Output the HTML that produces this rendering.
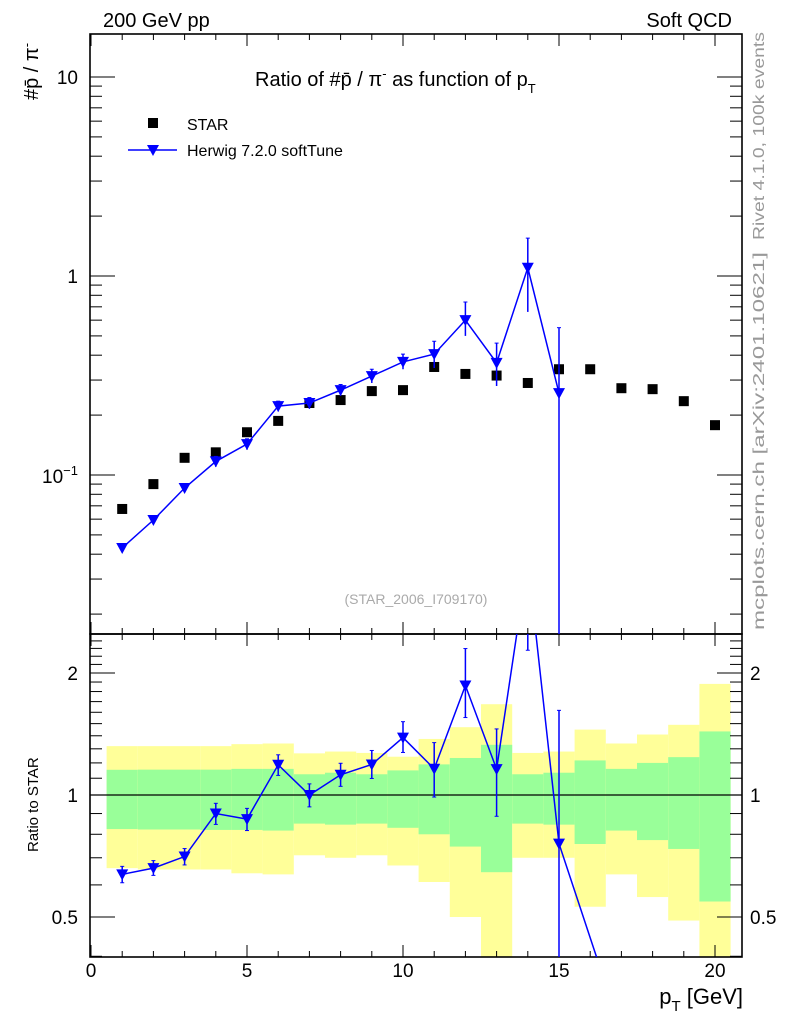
<!DOCTYPE html>
<html><head><meta charset="utf-8"><style>
html,body{margin:0;padding:0;background:#fff;overflow:hidden;width:786px;height:1024px;}
svg{display:block;font-family:"Liberation Sans",sans-serif;}
</style></head><body>
<svg id="chart" width="786" height="1024" viewBox="0 0 786 1024" xmlns="http://www.w3.org/2000/svg">
<text x="103" y="27" font-size="20">200 GeV pp</text>
<text x="732" y="27" font-size="20" text-anchor="end">Soft QCD</text>
<text x="255" y="86" font-size="20">Ratio of #p̄ / π<tspan dy="-8" font-size="13">-</tspan><tspan dy="8"> as function of p</tspan><tspan dy="7" font-size="13">T</tspan></text>
<text transform="translate(38,100) rotate(-90)" font-size="20">#p̄ / π<tspan dy="-7" font-size="13">-</tspan></text>
<text transform="translate(764,240) rotate(-90)" font-size="16" fill="#999" textLength="208" lengthAdjust="spacingAndGlyphs">Rivet 4.1.0,  100k events</text>
<text transform="translate(764,630) rotate(-90)" font-size="16" fill="#999" textLength="378" lengthAdjust="spacingAndGlyphs">mcplots.cern.ch [arXiv:2401.10621]</text>
<text x="416" y="604" font-size="14" fill="#aaa" text-anchor="middle">(STAR_2006_I709170)</text>
<text transform="translate(38,852) rotate(-90)" font-size="15">Ratio to STAR</text>
<text x="743" y="1004" font-size="22" text-anchor="end">p<tspan dy="7" font-size="15">T</tspan><tspan dy="-7"> [GeV]</tspan></text>
<g>
<rect x="148" y="118" width="10" height="10" fill="#000"/>
<text x="187" y="130" font-size="16">STAR</text>
<line x1="128" y1="150" x2="177" y2="150" stroke="#00f" stroke-width="1.5"/>
<path d="M147,145 L159,145 L153,156 Z" fill="#00f"/>
<text x="187" y="156" font-size="16">Herwig 7.2.0 softTune</text>
</g>
<g id="plot"></g>
</svg>
<script>
const xs=[1,2,3,4,5,6,7,8,9,10,11,12,13,14,15,16,17,18,19,20];
const star=[0.0675,0.090,0.122,0.130,0.164,0.187,0.230,0.238,0.264,0.267,0.349,0.322,0.316,0.290,0.340,0.340,0.273,0.270,0.235,0.178];
const herwigX=[1,2,3,4,5,6,7,8,9,10,11,12,13,14,15,17];
const herwig=[0.043,0.0594,0.086,0.117,0.143,0.222,0.230,0.267,0.314,0.370,0.405,0.60,0.366,1.10,0.258,0.071];
const herwigHi=[0.045,0.062,0.090,0.124,0.152,0.235,0.245,0.285,0.340,0.405,0.47,0.74,0.46,1.55,0.55,0.09];
const herwigLo=[0.041,0.057,0.082,0.110,0.134,0.209,0.215,0.250,0.290,0.340,0.345,0.50,0.28,0.66,0.001,0.05];
const yelHi=[1.32,1.32,1.32,1.32,1.335,1.34,1.267,1.28,1.27,1.243,1.375,1.47,1.675,1.27,1.28,1.45,1.34,1.41,1.49,1.88];
const grnHi=[1.154,1.155,1.155,1.155,1.16,1.16,1.125,1.135,1.125,1.15,1.19,1.234,1.33,1.125,1.135,1.217,1.16,1.2,1.24,1.435];
const grnLo=[0.824,0.822,0.822,0.82,0.82,0.817,0.85,0.845,0.85,0.83,0.80,0.746,0.645,0.85,0.845,0.757,0.817,0.774,0.736,0.546];
const yelLo=[0.66,0.655,0.655,0.655,0.641,0.637,0.71,0.70,0.71,0.67,0.61,0.50,0.30,0.70,0.70,0.53,0.637,0.56,0.49,0.30];
const xTicks=[0,5,10,15,20];

const NS="http://www.w3.org/2000/svg";
const g=document.getElementById('plot');
const L=90,R=742,T=34,D=634,B=957;
const X=v=>91+v*31.2;
const Ym=v=>276-Math.log10(v)*199;
const Yr=v=>795-Math.log2(v)*122;
function el(tag,attrs,parent){const e=document.createElementNS(NS,tag);for(const k in attrs)e.setAttribute(k,attrs[k]);(parent||g).appendChild(e);return e;}

const defs=el('defs',{});
const c1=el('clipPath',{id:'cm'},defs);el('rect',{x:L,y:T,width:R-L,height:D-T},c1);
const c2=el('clipPath',{id:'cr'},defs);el('rect',{x:L,y:D,width:R-L,height:B-D},c2);

const bands=el('g',{'clip-path':'url(#cr)'});


xs.forEach((x,i)=>{
  const x0=X(x-0.5),w=31.2;
  const y1=el('rect',{x:x0,y:Yr(yelHi[i]),width:w,height:Yr(yelLo[i])-Yr(yelHi[i]),fill:'#ffff99'},bands);
  
  
  const g1=el('rect',{x:x0,y:Yr(grnHi[i]),width:w,height:Yr(grnLo[i])-Yr(grnHi[i]),fill:'#99ff99'},bands);
  
  
});
const one=el('line',{x1:L,x2:R,y1:Yr(1),y2:Yr(1),stroke:'#000','stroke-width':1.2});



[[T,D],[D,B]].forEach(([a,b],k)=>{
  const f=el('rect',{x:L,y:a,width:R-L,height:b-a,fill:'none',stroke:'#000','stroke-width':1.6});
  
  
  for(let v=0;v<=20;v++){
    const big=v%5==0, len=big?12:6, px=X(v);
    el('line',{x1:px,x2:px,y1:a,y2:a+len,stroke:'#000'});
    el('line',{x1:px,x2:px,y1:b,y2:b-len,stroke:'#000'});
  }
});
xTicks.forEach(v=>{const t=el('text',{x:X(v),y:977,'font-size':19,'text-anchor':'middle'});t.textContent=v;

});
for(let e=-2;e<=1;e++)for(let m=1;m<10;m++){const v=m*Math.pow(10,e),py=Ym(v);if(py<T||py>D)continue;
 const len=m==1?25:12;el('line',{x1:L,x2:L+len,y1:py,y2:py,stroke:'#000'});el('line',{x1:R,x2:R-len,y1:py,y2:py,stroke:'#000'});}
[['10',10,'y-tick-10'],['1',1,'y-tick-1']].forEach(([s,v,n])=>{const t=el('text',{x:78,y:Ym(v)+7,'font-size':19,'text-anchor':'end'});t.textContent=s;

});
const tm=el('text',{x:78,y:Ym(0.1)+8,'font-size':19,'text-anchor':'end'});tm.innerHTML='10<tspan dy="-8" font-size="13">−1</tspan>';


[0.4,0.5,0.6,0.7,0.8,0.9,1,1.1,1.2,1.3,1.4,1.5,1.6,1.7,1.8,1.9,2,2.1,2.2,2.3,2.4,2.5].forEach(v=>{const py=Yr(v);if(py<D||py>B)return;
 const big=(v==0.5||v==1||v==2);const len=big?25:12;
 el('line',{x1:L,x2:L+len,y1:py,y2:py,stroke:'#000'});el('line',{x1:R,x2:R-len,y1:py,y2:py,stroke:'#000'});});
[['2',2],['1',1],['0.5',0.5]].forEach(([s,v])=>{
 const a=el('text',{x:78,y:Yr(v)+7,'font-size':19,'text-anchor':'end'});a.textContent=s;
 
 
 const b=el('text',{x:750,y:Yr(v)+7,'font-size':19});b.textContent=s;
 
 });

const sg=el('g',{'clip-path':'url(#cm)'});
xs.forEach((x,i)=>{const r=el('rect',{x:X(x)-5,y:Ym(star[i])-5,width:10,height:10,fill:'#000'},sg);

});
const hg=el('g',{'clip-path':'url(#cm)'});
const nMain=15;
let d='';for(let i=0;i<nMain;i++)d+=(i?'L':'M')+X(herwigX[i])+','+Ym(herwig[i]);
const hl=el('path',{d:d,fill:'none',stroke:'#00f','stroke-width':1.5},hg);


for(let i=0;i<nMain;i++){const px=X(herwigX[i]),py=Ym(herwig[i]);
 el('line',{x1:px,x2:px,y1:Ym(herwigHi[i]),y2:Ym(herwigLo[i]),stroke:'#00f','stroke-width':1.5},hg);
 el('line',{x1:px-2,x2:px+2,y1:Ym(herwigHi[i]),y2:Ym(herwigHi[i]),stroke:'#00f'},hg);
 const m=el('path',{d:`M${px-6},${py-5}L${px+6},${py-5}L${px},${py+6}Z`,fill:'#00f'},hg);
 
 }
const rg=el('g',{'clip-path':'url(#cr)'});
let d2='';herwigX.forEach((x,i)=>{const si=xs.indexOf(x);d2+=(i?'L':'M')+X(x)+','+Yr(herwig[i]/star[si]);});
const rl=el('path',{d:d2,fill:'none',stroke:'#00f','stroke-width':1.5},rg);


for(let i=0;i<nMain;i++){const x=herwigX[i],s=star[xs.indexOf(x)],px=X(x),py=Yr(herwig[i]/s);
 const yh=Yr(herwigHi[i]/s),yl=Yr(herwigLo[i]/s);
 el('line',{x1:px,x2:px,y1:yh,y2:yl,stroke:'#00f','stroke-width':1.5},rg);
 el('line',{x1:px-2,x2:px+2,y1:yh,y2:yh,stroke:'#00f'},rg);
 el('line',{x1:px-2,x2:px+2,y1:yl,y2:yl,stroke:'#00f'},rg);
 const m=el('path',{d:`M${px-6},${py-5}L${px+6},${py-5}L${px},${py+6}Z`,fill:'#00f'},rg);
 
 }
</script>
</body></html>
